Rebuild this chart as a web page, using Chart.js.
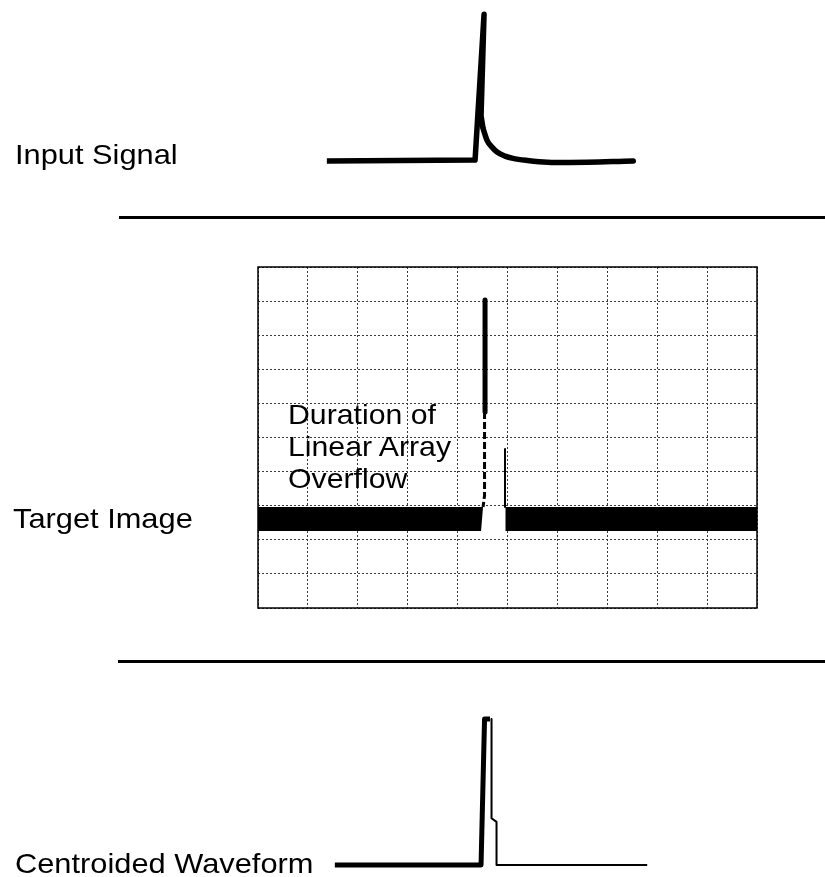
<!DOCTYPE html>
<html>
<head>
<meta charset="utf-8">
<script src="https://cdn.jsdelivr.net/npm/chart.js@4.4.1/dist/chart.umd.min.js"></script>
<style>
  html, body { margin: 0; padding: 0; background: #fff; }
  #wrap { position: relative; width: 825px; height: 877px; overflow: hidden; }
  canvas { position: absolute; left: 0; top: 0; }
  .lbl { position: absolute; font-family: 'Liberation Sans', Arial, sans-serif; font-size: 28px; line-height: 28px;
         color: #000; white-space: nowrap; transform: scaleX(1.1); transform-origin: 0 0; }
  .note { line-height: 32px; transform: scaleX(1.08); }
  .rule { position: absolute; height: 3px; background: #000; }
</style>
</head>
<body>
<div id="wrap">
  <canvas id="inputChart" width="825" height="877"></canvas>
  <canvas id="targetChart" width="825" height="877"></canvas>
  <canvas id="centroidChart" width="825" height="877"></canvas>

  <div class="lbl" style="left:15px; top:141px;">Input Signal</div>
  <div class="lbl" style="left:13px; top:505px;">Target Image</div>
  <div class="lbl" style="left:15px; top:850px;">Centroided Waveform</div>
  <div class="lbl note" style="left:288px; top:399px;">Duration of<br>Linear Array<br>Overflow</div>

  <div class="rule" style="left:119px; top:216px; width:706px;"></div>
  <div class="rule" style="left:118px; top:660px; width:707px;"></div>
</div>

<script>
// x is in grid divisions (0..10) for all three panels

// --- Input Signal (y normalised 0..1) ---
const spikeX = [1.38, 4.35, 4.53, 4.47, 4.51];
const spikeY = [0, 0.007, 0.985, 0.305, 0.219];
const decayX = [4.51, 4.59, 4.69, 4.79, 4.95, 5.11, 5.40, 5.80, 6.25, 7.52];
const decayY = [0.219, 0.139, 0.093, 0.060, 0.033, 0.018, 0.004, -0.008, -0.01, 0];

// --- Target Image (y in grid divisions 0..10) ---
const leftBandX = [0, 4.51, 4.47, 0];
const leftBandY = [2.96, 2.96, 2.26, 2.26];
const rightBandX = [4.96, 10, 10, 4.96];
const rightBandY = [2.96, 2.96, 2.26, 2.26];
const overflowX = [4.55, 4.55];
const overflowY = [9.03, 5.75];
const overflowDashX = [4.54, 4.54, 4.51];
const overflowDashY = [5.75, 3.3, 2.96];
const residualX = [4.95, 4.95];
const residualY = [4.66, 2.96];

// --- Centroided Waveform (y normalised 0..1) ---
const centroidThickX = [1.54, 4.47, 4.54, 4.65];
const centroidThickY = [0, 0, 1, 1];
const centroidThinX = [4.68, 4.68, 4.78, 4.78, 7.80];
const centroidThinY = [1, 0.32, 0.295, 0, 0];

const pts = (xs, ys) => xs.map((x, i) => ({ x: x, y: ys[i] }));

function lineSet(data, width, extra) {
    return Object.assign({
        data: data,
        borderColor: '#000',
        borderWidth: width,
        pointRadius: 0,
        tension: 0,
        fill: false,
        clip: false,
        borderJoinStyle: 'round',
        borderCapStyle: 'butt'
    }, extra || {});
}

function options(pad, yMin, yMax, grid) {
    const axis = (min, max) => ({
        type: 'linear',
        display: !!grid,
        min: min,
        max: max,
        ticks: { display: false, stepSize: 1 },
        grid: { color: '#3a3a3a', lineWidth: 1, drawTicks: false },
        border: { display: false, dash: [2, 2] }
    });
    return {
        responsive: false,
        animation: false,
        devicePixelRatio: 1,
        layout: { padding: pad },
        plugins: { legend: { display: false }, tooltip: { enabled: false } },
        scales: { x: axis(0, 10), y: axis(yMin, yMax) }
    };
}

// solid outline round the target image grid
const frame = {
    id: 'frame',
    beforeDatasetsDraw(chart) {
        const { ctx, chartArea: a } = chart;
        ctx.save();
        ctx.strokeStyle = '#000';
        ctx.lineWidth = 1.5;
        ctx.strokeRect(a.left, a.top, a.right - a.left, a.bottom - a.top);
        ctx.restore();
    }
};

new Chart(document.getElementById('inputChart'), {
    type: 'line',
    data: {
        datasets: [
            lineSet(pts(spikeX, spikeY), 5.5),
            lineSet(pts(decayX, decayY), 5.5, { cubicInterpolationMode: 'monotone', borderCapStyle: 'round' })
        ]
    },
    options: options({ left: 258, right: 68, top: 12, bottom: 716 }, 0, 1, false)
});

new Chart(document.getElementById('targetChart'), {
    type: 'line',
    data: {
        datasets: [
            lineSet(pts(leftBandX, leftBandY), 0, { fill: 'shape', backgroundColor: '#000' }),
            lineSet(pts(rightBandX, rightBandY), 0, { fill: 'shape', backgroundColor: '#000' }),
            lineSet(pts(overflowX, overflowY), 5),
            lineSet(pts(overflowDashX, overflowDashY), 3, { borderDash: [7, 3] }),
            lineSet(pts(residualX, residualY), 2)
        ]
    },
    options: options({ left: 258, right: 68, top: 267, bottom: 269 }, 0, 10, true),
    plugins: [frame]
});

new Chart(document.getElementById('centroidChart'), {
    type: 'line',
    data: {
        datasets: [
            lineSet(pts(centroidThickX, centroidThickY), 5),
            lineSet(pts(centroidThinX, centroidThinY), 2)
        ]
    },
    options: options({ left: 258, right: 68, top: 719, bottom: 12 }, 0, 1, false)
});
</script>
</body>
</html>
